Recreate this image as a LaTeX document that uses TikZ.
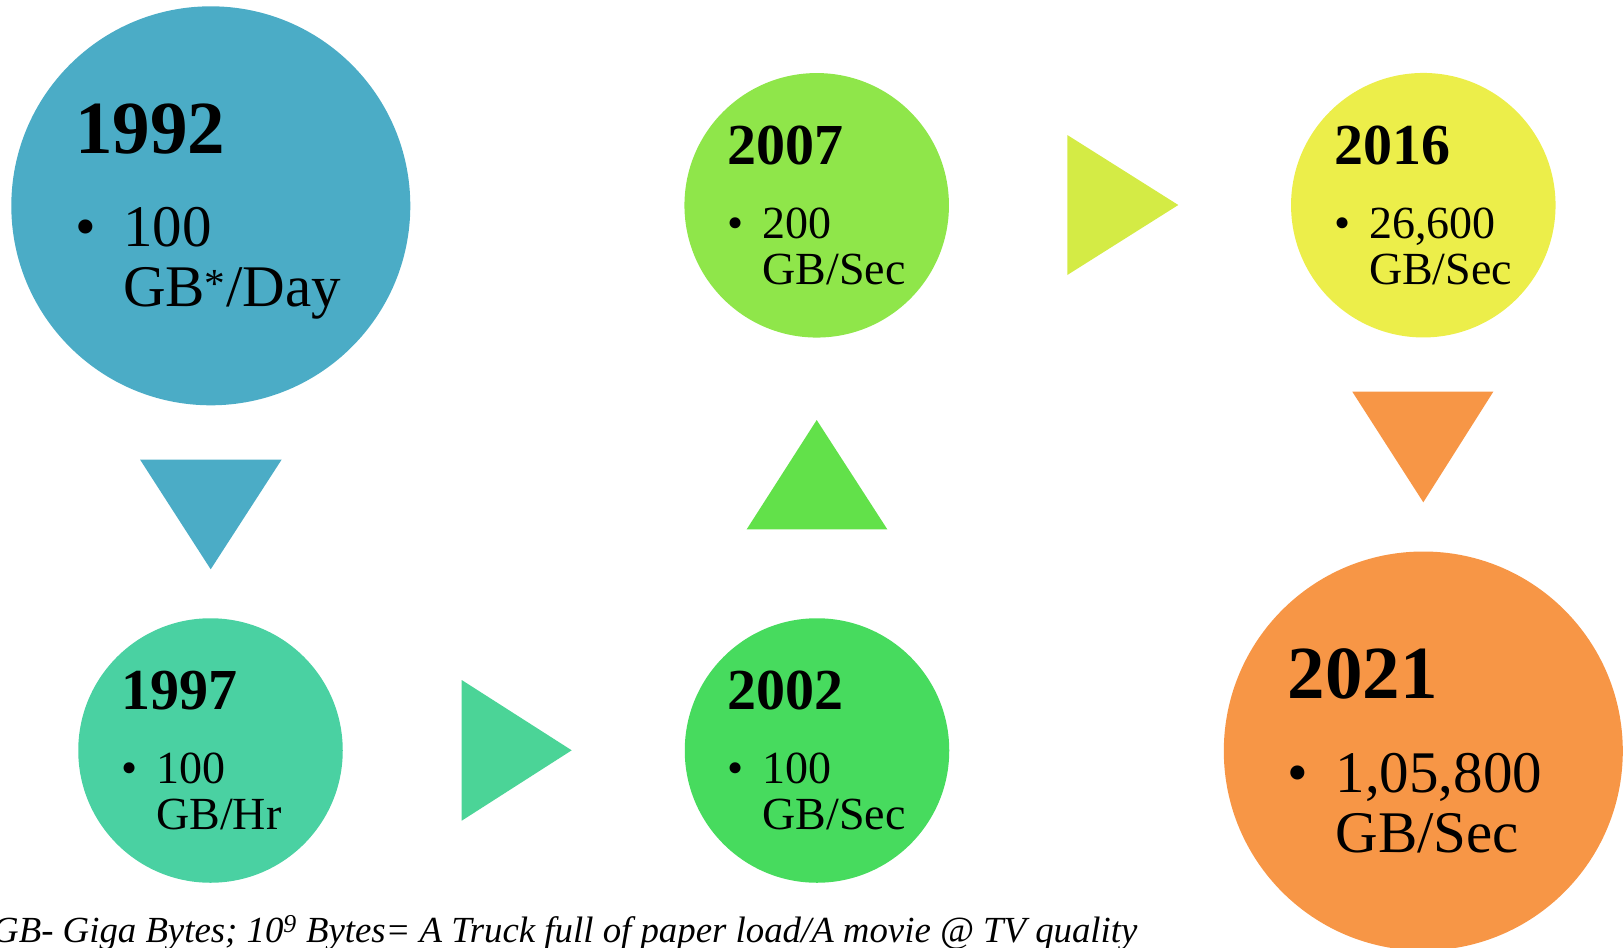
\documentclass[tikz,border=0pt]{standalone}
\usepackage{fontspec}
\setmainfont{Liberation Serif}

% Fill colours of the stages and of the arrows between them
\definecolor{c1992}{HTML}{4BACC6}
\definecolor{c1997}{HTML}{4AD1A2}
\definecolor{a1997}{HTML}{4BD497}
\definecolor{c2002}{HTML}{47DB5E}
\definecolor{a2002}{HTML}{62E14A}
\definecolor{c2007}{HTML}{8FE64A}
\definecolor{a2007}{HTML}{D4EB45}
\definecolor{c2016}{HTML}{ECEE4A}
\definecolor{c2021}{HTML}{F79646}

% One stage: circle, year, bullet and a two-line value
% #1 name, #2 centre, #3 colour, #4 year, #5 first value line, #6 second value line
\newcommand\stagesmall[6]{%
  \node[stage=264.5pt,fill=#3] (#1) at (#2) {};
  \node[yr=58]  (#1-year) at ([shift={(-89.5,-41)}]#1.center) {#4};
  \node[val=46] (#1-dot)  at ([shift={(-89.5,33)}]#1.center) {\textbullet};
  \node[val=46] (#1-a)    at ([shift={(-54.5,33)}]#1.center) {#5};
  \node[val=46] (#1-b)    at ([shift={(-54.5,79)}]#1.center) {#6};
}
\newcommand\stagelarge[6]{%
  \node[stage=399pt,fill=#3] (#1) at (#2) {};
  \node[yr=75]  (#1-year) at ([shift={(-136,-52.5)}]#1.center) {#4};
  \node[val=59] (#1-dot)  at ([shift={(-136,41)}]#1.center) {\textbullet};
  \node[val=59] (#1-a)    at ([shift={(-88,41)}]#1.center) {#5};
  \node[val=59] (#1-b)    at ([shift={(-88,101)}]#1.center) {#6};
}

\begin{document}
\begin{tikzpicture}[x=1pt,y=-1pt,
  stage/.style={circle,inner sep=0pt,minimum size=#1},
  yr/.style={anchor=base west,inner sep=0pt,font=\bfseries\fontsize{#1}{#1}\selectfont},
  val/.style={anchor=base west,inner sep=0pt,font=\fontsize{#1}{#1}\selectfont},
  note/.style={anchor=base west,inner sep=0pt,font=\itshape\fontsize{36.8}{36.8}\selectfont}]
\useasboundingbox (0,0) rectangle (1623,948);

% stages
\stagelarge{s1992}{210.8,205.8}{c1992}{1992}{100}{GB\textsuperscript{*}/Day}
\stagesmall{s1997}{210.5,750.5}{c1997}{1997}{100}{GB/Hr}
\stagesmall{s2002}{817,750.5}{c2002}{2002}{100}{GB/Sec}
\stagesmall{s2007}{816.7,205.3}{c2007}{2007}{200}{GB/Sec}
\stagesmall{s2016}{1423.3,205.2}{c2016}{2016}{26,600}{GB/Sec}
\stagelarge{s2021}{1423.3,751}{c2021}{2021}{1,05,800}{GB/Sec}

% triangular arrows between the stages
\fill[c1992] (140,459.5) -- (281.7,459.5) -- (210.7,569.3) -- cycle;
\fill[a1997] (461.7,680) -- (461.7,820.7) -- (571.7,750.3) -- cycle;
\fill[a2002] (746.7,529.3) -- (887.3,529.3) -- (816.7,420) -- cycle;
\fill[a2007] (1067.3,135) -- (1067.3,275) -- (1178.3,205) -- cycle;
\fill[c2021] (1352.3,391.7) -- (1493.3,391.7) -- (1423.3,502.3) -- cycle;

% footnote
\node[note] (footnote) at (-8,942) {GB- Giga Bytes; 10\textsuperscript{9} Bytes= A Truck full of paper load/A movie @ TV quality};
\end{tikzpicture}
\end{document}
